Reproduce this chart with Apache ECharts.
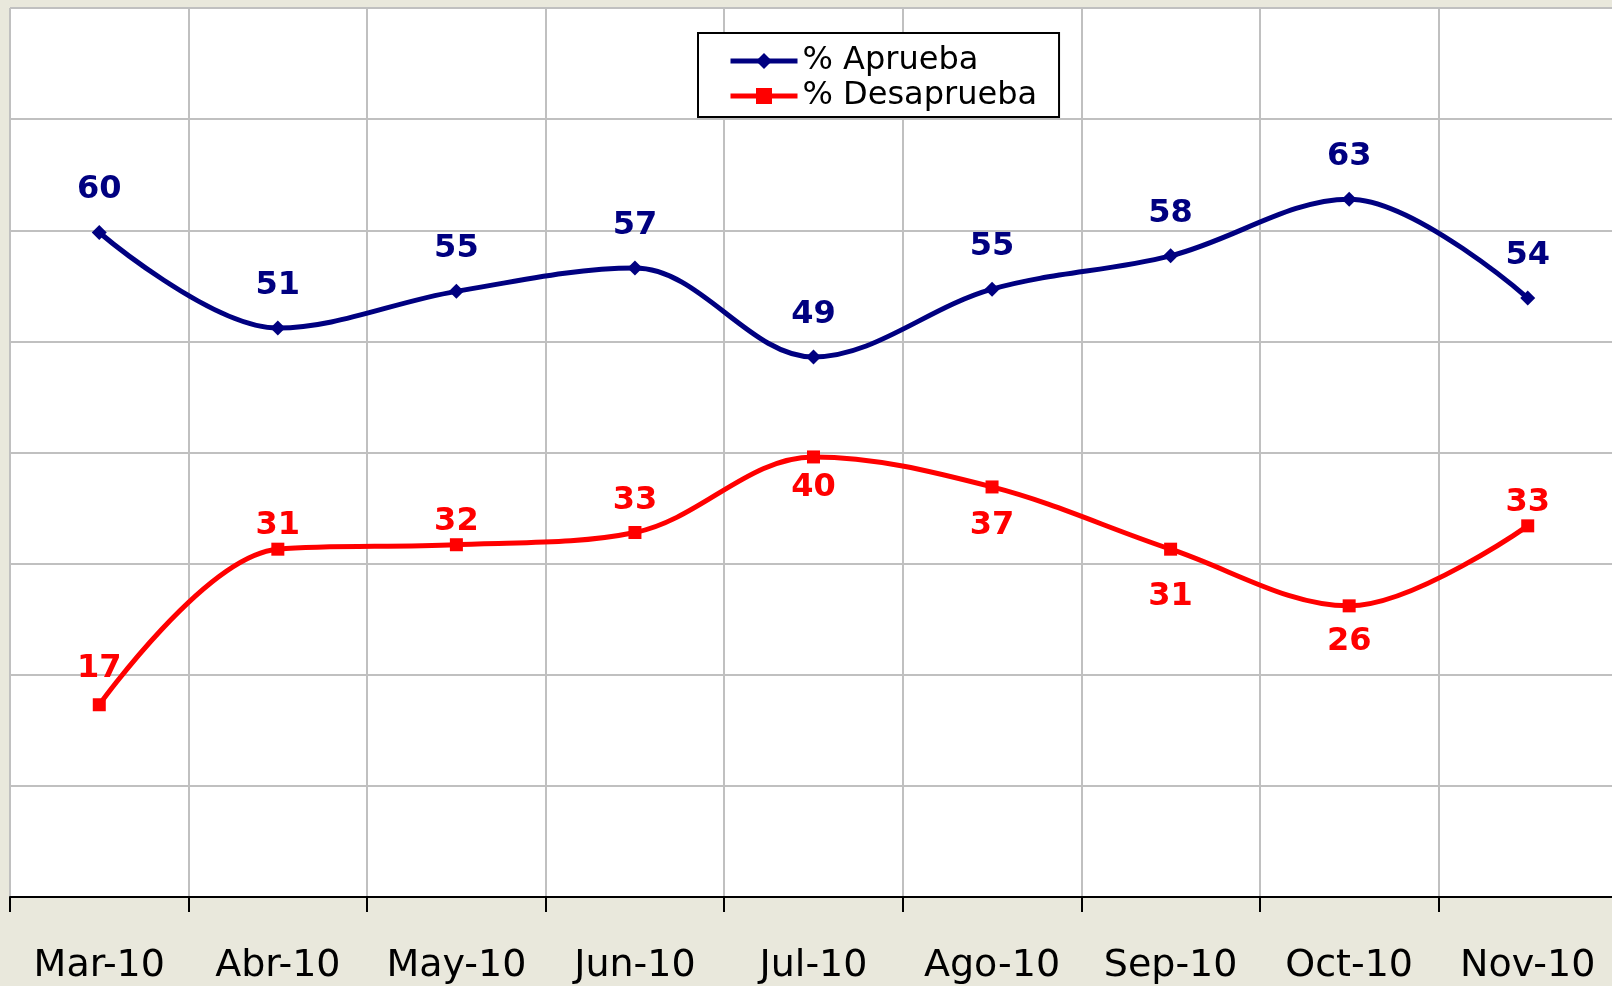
<!DOCTYPE html>
<html>
<head>
<meta charset="utf-8">
<script src="https://cdn.jsdelivr.net/npm/echarts@6/dist/echarts.min.js"></script>
<style>
  html, body { margin: 0; padding: 0; background: #e9e8dc; }
  #main { width: 1612px; height: 986px; }
</style>
</head>
<body>
<div id="main"></div>
<script>
"use strict";

var months = ["Mar-10", "Abr-10", "May-10", "Jun-10", "Jul-10", "Ago-10", "Sep-10", "Oct-10", "Nov-10"];
var aprueba = [59.8, 51.2, 54.5, 56.6, 48.6, 54.7, 57.7, 62.8, 53.9];
var desaprueba = [17.3, 31.3, 31.7, 32.8, 39.6, 36.9, 31.3, 26.2, 33.4];

// where each red label sits (Excel placed them by hand)
var redLabelPos = ["top", "top", "top", "top", "bottom", "bottom", "bottom", "bottom", "top"];
var redLabelGap = [13, 0, 0, 8, 7, 15, 24, 12, 0];

var font = "'DejaVu Sans', 'Liberation Sans', sans-serif";

var chart = echarts.init(document.getElementById("main"));

var option = {
  backgroundColor: "#e9e8dc",
  animation: false,
  grid: {
    left: 10,
    top: 8,
    width: 1607,
    height: 889,
    outerBoundsMode: "none",
    show: true,
    backgroundColor: "#ffffff",
    borderWidth: 0,
  },
  legend: {
    orient: "vertical",
    left: 698,
    top: 33,
    padding: [11, 22, 4, 30],
    itemGap: 1,
    itemWidth: 67,
    itemHeight: 20,
    backgroundColor: "#ffffff",
    borderColor: "#000000",
    borderWidth: 2,
    borderRadius: 0,
    lineStyle: { width: 5 },
    textStyle: { fontFamily: font, fontSize: 32, lineHeight: 34, color: "#000000" },
    data: ["% Aprueba", "% Desaprueba"],
  },
  xAxis: {
    type: "category",
    data: months,
    boundaryGap: true,
    axisLine: { lineStyle: { color: "#000000", width: 2 } },
    axisTick: { show: true, interval: 0, length: 15, lineStyle: { color: "#000000", width: 2 } },
    axisLabel: { interval: 0, fontFamily: font, fontSize: 38, color: "#000000", margin: 50 },
    splitLine: { show: true, interval: 0, lineStyle: { color: "#c0c0c0", width: 2 } },
  },
  yAxis: {
    type: "value",
    min: 0,
    max: 80,
    interval: 10,
    axisLine: { show: false },
    axisTick: { show: false },
    axisLabel: { show: false },
    splitLine: { show: true, lineStyle: { color: "#c0c0c0", width: 2 } },
  },
  series: [
    {
      name: "% Aprueba",
      type: "line",
      smooth: 0.35,
      data: aprueba,
      symbol: "diamond",
      symbolSize: 15,
      itemStyle: { color: "#000080" },
      lineStyle: { color: "#000080", width: 5 },
      label: {
        show: true,
        position: "top",
        distance: 18,
        fontFamily: font,
        fontWeight: "bold",
        fontSize: 32,
        lineHeight: 34,
        color: "#000080",
        formatter: function (p) { return Math.round(p.value); },
      },
    },
    {
      name: "% Desaprueba",
      type: "line",
      smooth: 0.35,
      data: desaprueba.map(function (v, i) {
        return { value: v, label: { position: redLabelPos[i], distance: redLabelGap[i] } };
      }),
      symbol: "rect",
      symbolSize: 13,
      itemStyle: { color: "#ff0000" },
      lineStyle: { color: "#ff0000", width: 5 },
      label: {
        show: true,
        fontFamily: font,
        fontWeight: "bold",
        fontSize: 32,
        lineHeight: 34,
        color: "#ff0000",
        formatter: function (p) { return Math.round(p.value); },
      },
    },
  ],
};

option && chart.setOption(option);
</script>
</body>
</html>
